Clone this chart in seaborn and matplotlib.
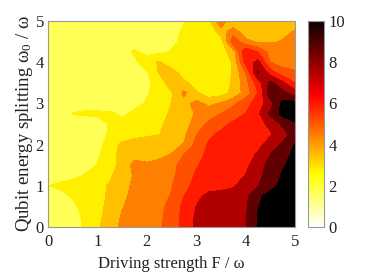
import numpy as np
import matplotlib
matplotlib.use("Agg")
import matplotlib.pyplot as plt
import matplotlib.colors as mcolors
import matplotlib.cm as cm
import seaborn as sns

# grid of the map (driving strength F / omega, splitting omega0 / omega)
drive = [0, 0.25, 0.5, 0.75, 1, 1.25, 1.5, 1.75, 2, 2.25, 2.5,
         2.75, 3, 3.25, 3.5, 3.75, 4, 4.25, 4.5, 4.75, 5]
splitting = [0, 0.25, 0.5, 0.75, 1, 1.25, 1.5, 1.75, 2, 2.25, 2.5,
             2.75, 3, 3.25, 3.5, 3.75, 4, 4.25, 4.5, 4.75, 5]

# values, one row per splitting value
w000 = [1.3, 1.45, 1.7, 2.1, 2.85, 3.55, 4.2, 4.45, 4.65, 4.85, 5.45, 6.3, 7.2, 7.4, 7.55, 7.7, 7.95, 9.05, 9.5, 9.7, 9.8]
w025 = [1.3, 1.45, 1.7, 2.15, 2.75, 3.4, 4.1, 4.4, 4.6, 4.8, 5.4, 6.3, 7.15, 7.4, 7.55, 7.7, 7.9, 9.05, 9.5, 9.7, 9.8]
w050 = [1.35, 1.5, 1.8, 2.3, 2.65, 3.3, 3.95, 4.3, 4.55, 4.75, 5.3, 6.25, 7.02, 7.35, 7.5, 7.65, 7.85, 8.95, 9.4, 9.6, 9.75]
w075 = [1.5, 1.7, 2.1, 2.4, 2.6, 3.2, 3.8, 4.25, 4.5, 4.7, 5.05, 5.98, 6.8, 7.2, 7.3, 7.4, 7.7, 8.85, 9.3, 9.5, 9.7]
w100 = [1.98, 2.2, 2.35, 2.5, 2.7, 3.1, 3.65, 4.2, 4.45, 4.65, 4.95, 5.6, 6.4, 6.7, 6.75, 6.9, 7.4, 7.95, 8.7, 9.25, 9.5]
w125 = [1.5, 1.65, 1.8, 2.05, 2.5, 2.85, 3.5, 4.1, 4.4, 4.6, 4.85, 5.35, 6.15, 6.5, 6.6, 6.8, 7.02, 7.7, 8.5, 9.1, 9.4]
w150 = [1.3, 1.4, 1.55, 1.75, 2.02, 2.6, 3.35, 4.3, 4.1, 4.2, 4.75, 5.3, 5.9, 6.35, 6.5, 6.6, 6.8, 7.45, 8.4, 8.9, 9.3]
w175 = [1.25, 1.3, 1.4, 1.55, 1.85, 2.6, 3.3, 3.7, 3.75, 3.85, 4.05, 5.02, 5.7, 6.2, 6.4, 6.5, 6.7, 7.1, 8.02, 8.7, 9.2]
w200 = [1.2, 1.25, 1.3, 1.4, 1.6, 2.5, 3.2, 3.4, 3.5, 3.6, 3.75, 4.05, 5.3, 6.1, 6.3, 6.4, 6.5, 6.75, 7.4, 8.15, 9.05]
w225 = [1.2, 1.22, 1.25, 1.3, 1.5, 2.15, 2.5, 2.7, 2.85, 2.97, 3.3, 3.75, 4.95, 5.8, 6.2, 6.3, 6.4, 6.55, 6.9, 7.6, 8.45]
w250 = [1.2, 1.2, 1.22, 1.25, 1.45, 2.1, 2.3, 2.45, 2.6, 2.9, 3.2, 3.6, 4.4, 5.2, 5.7, 6.2, 6.4, 6.7, 7.2, 8.2, 8.9]
w275 = [1.35, 1.4, 2.05, 2.2, 2.2, 2.2, 1.8, 2.2, 2.45, 2.75, 3.1, 3.5, 4.1, 4.5, 5.02, 5.5, 6.02, 6.8, 8.2, 9.3, 9.5]
w300 = [1.4, 1.45, 1.5, 1.5, 1.45, 1.4, 1.5, 1.7, 2.1, 2.5, 3.02, 3.7, 4.3, 3.8, 4.1, 4.8, 5.6, 6.5, 7.6, 9.3, 9.4]
w325 = [1.45, 1.5, 1.55, 1.55, 1.5, 1.5, 1.55, 1.7, 1.9, 2.35, 2.9, 4.2, 3.2, 2.45, 2.6, 3.3, 4.4, 6.02, 8.6, 8.3, 7.5]
w350 = [1.45, 1.5, 1.55, 1.6, 1.6, 1.6, 1.65, 1.75, 1.85, 2.3, 3.7, 3.3, 2.4, 2.4, 2.6, 3.1, 4.6, 6.5, 8.3, 7.2, 6.02]
w375 = [1.4, 1.45, 1.5, 1.55, 1.6, 1.6, 1.65, 1.75, 1.9, 3.1, 3.5, 2.5, 2.3, 2.3, 2.5, 3.1, 4.98, 8.1, 6.5, 5.4, 5.1]
w400 = [1.35, 1.4, 1.45, 1.5, 1.5, 1.55, 1.6, 1.75, 2.6, 3.1, 2.3, 2.3, 2.3, 2.35, 2.5, 3.1, 6.4, 7.3, 5.0, 4.6, 4.6]
w425 = [1.35, 1.35, 1.4, 1.45, 1.45, 1.5, 1.55, 2.15, 1.7, 1.8, 2.05, 2.2, 2.25, 2.3, 2.5, 3.5, 7.0, 6.0, 4.6, 4.5, 4.45]
w450 = [1.3, 1.3, 1.35, 1.4, 1.4, 1.45, 1.5, 1.5, 1.55, 1.65, 1.85, 2.15, 2.25, 2.3, 2.6, 5.6, 4.3, 3.85, 3.9, 4.05, 4.25]
w475 = [1.25, 1.25, 1.3, 1.35, 1.35, 1.4, 1.45, 1.5, 1.55, 1.6, 1.75, 2.1, 2.3, 2.45, 3.4, 4.6, 3.3, 3.3, 3.5, 3.8, 4.05]
w500 = [1.2, 1.2, 1.25, 1.3, 1.35, 1.4, 1.45, 1.5, 1.6, 1.7, 1.8, 1.97, 2.3, 2.6, 5.0, 2.9, 3.05, 3.3, 3.45, 3.55, 3.6]

grid = np.array([w000, w025, w050, w075, w100, w125, w150, w175, w200, w225, w250,
                 w275, w300, w325, w350, w375, w400, w425, w450, w475, w500])

levels = [0, 1, 2, 3, 4, 5, 6, 7, 8, 9, 10]
# fill colour of each band
band_colors = ['#ffffc8', '#ffff55', '#fff000', '#ffc000', '#ff8000',
               '#ff5000', '#ff1a00', '#b00000', '#600000', '#000000']
cbar_ticks = [0, 2, 4, 6, 8, 10]
axis_ticks = [0, 1, 2, 3, 4, 5]

sns.set_style("ticks")
plt.rcParams['font.family'] = ['Liberation Serif', 'DejaVu Serif']
plt.rcParams['mathtext.fontset'] = 'custom'
plt.rcParams['mathtext.rm'] = 'Liberation Serif'
plt.rcParams['mathtext.default'] = 'regular'

fig = plt.figure(figsize=(3.74, 2.76), dpi=100)
ax = fig.add_axes([48 / 374, 49 / 276, 247 / 374, 206 / 276])
cax = fig.add_axes([308 / 374, 49 / 276, 16 / 374, 206 / 276])

ax.contourf(drive, splitting, grid, levels=levels, colors=band_colors)

ax.set_xlim(0, 5)
ax.set_ylim(0, 5)
ax.set_xticks(axis_ticks)
ax.set_yticks(axis_ticks)
ax.tick_params(direction='in', length=3, width=0.6, color='#888888',
               top=True, right=True, labelsize=12, labelcolor='#222222')
ax.tick_params(axis='x', pad=5)
ax.tick_params(axis='y', pad=3)
for s in ax.spines.values():
    s.set_color('#999999')
    s.set_linewidth(0.8)
ax.set_xlabel('Driving strength F / ω', fontsize=12, color='#222222', labelpad=4)
ax.set_ylabel('Qubit energy splitting ω$_0$ / ω', fontsize=13.5, color='#222222', labelpad=0)

cmap = plt.get_cmap('hot_r')
norm = mcolors.Normalize(vmin=0, vmax=10)
sm = cm.ScalarMappable(norm=norm, cmap=cmap)
cb = fig.colorbar(sm, cax=cax, ticks=cbar_ticks)
cb.outline.set_edgecolor('#999999')
cb.outline.set_linewidth(0.8)
cax.tick_params(direction='in', length=3, width=0.6, color='#555555',
                labelsize=12, labelcolor='#222222', pad=3)

fig.savefig('out.png', dpi=100)
